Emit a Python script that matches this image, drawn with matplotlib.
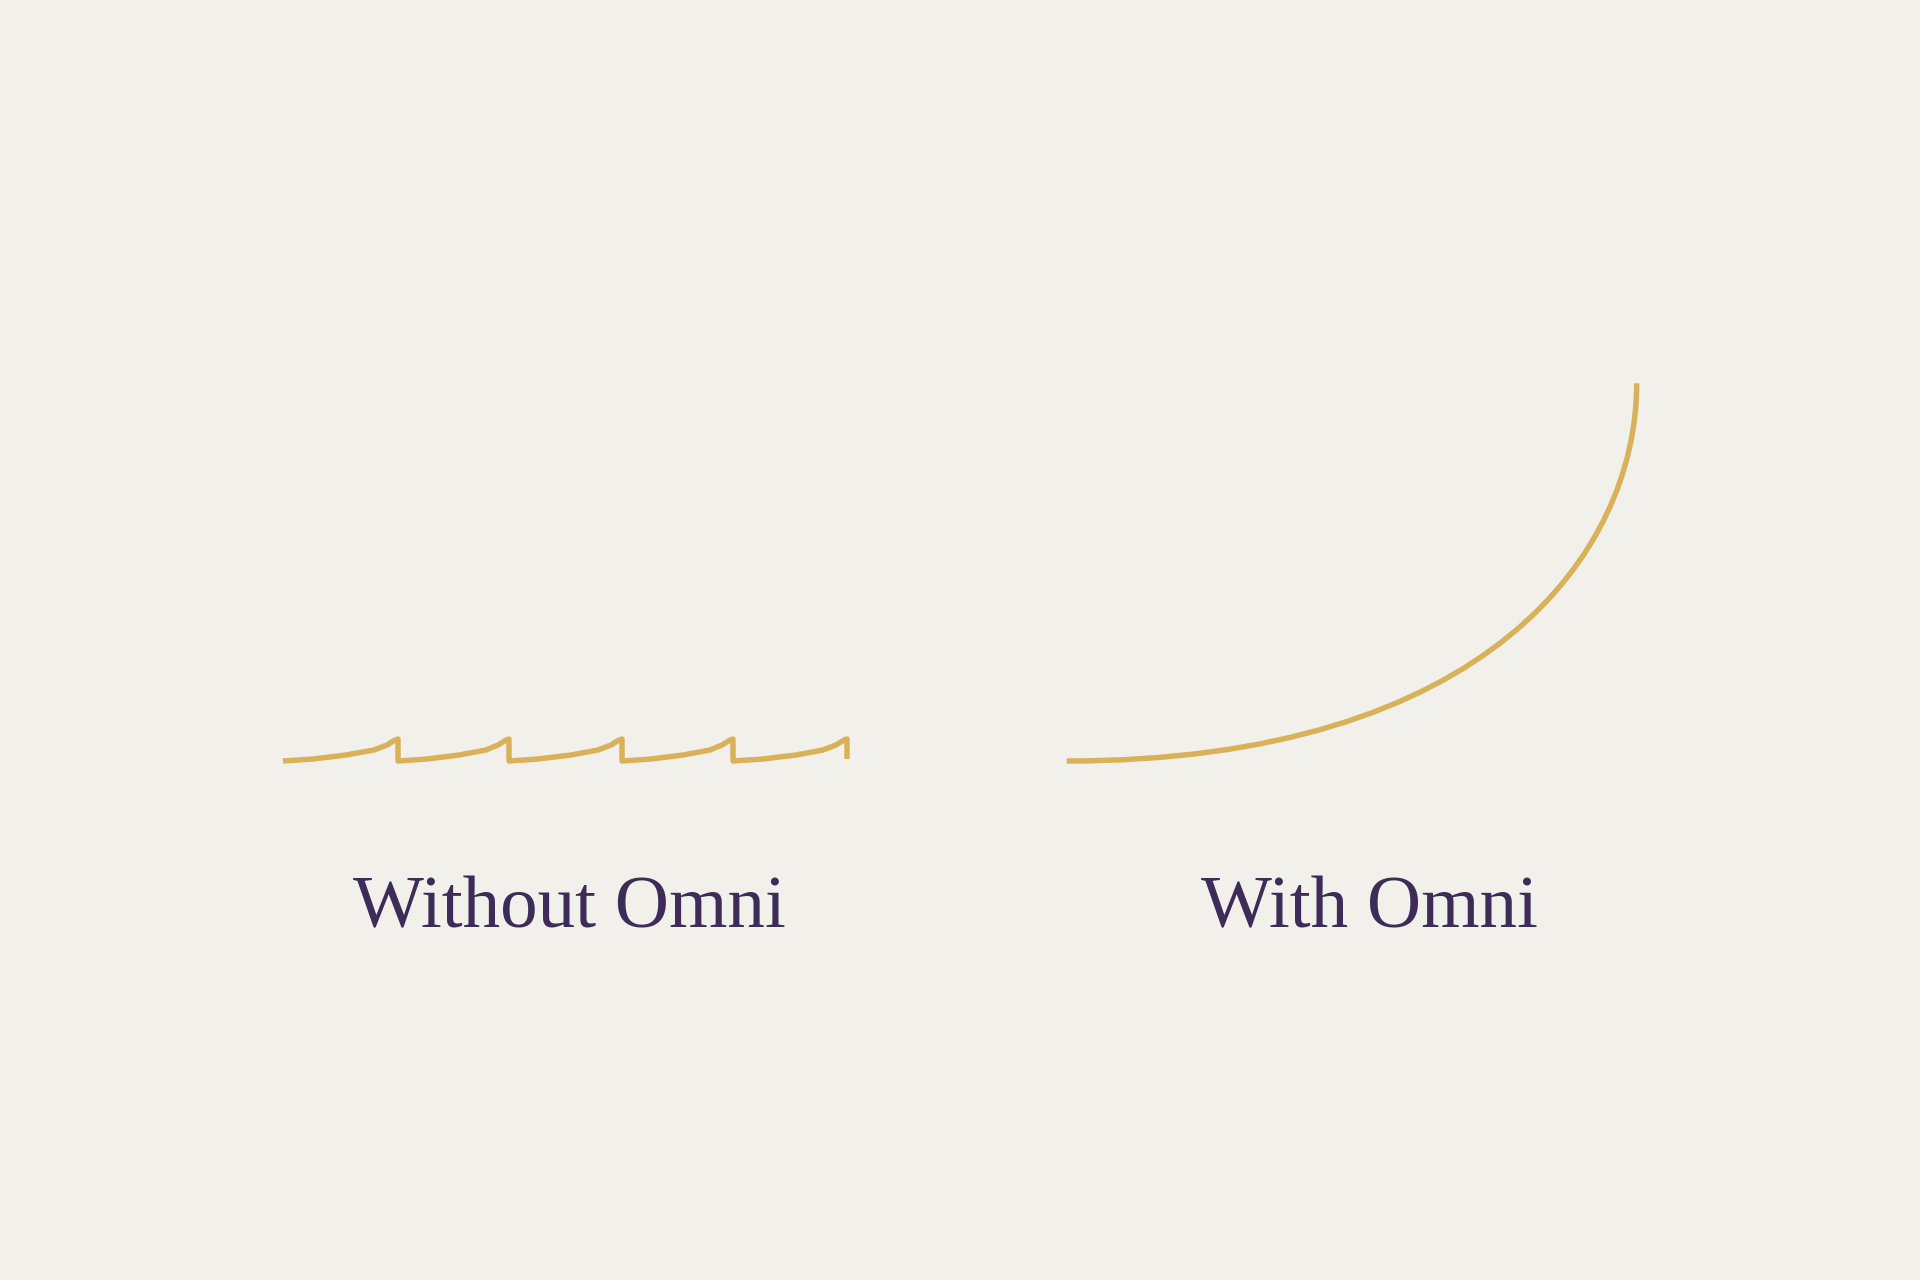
import matplotlib.pyplot as plt
from matplotlib.path import Path
from matplotlib.patches import PathPatch

# ---------------------------------------------------------------------
# Data: height above the common baseline, x along the canvas
# "Without Omni": five small growth cycles that reset to zero
without_x = [283, 313, 346, 374, 387, 395, 398, 398,
             427, 459, 486, 498, 506, 509, 509,
             538, 571, 598, 611, 619, 622, 622,
             651, 683, 710, 722, 730, 733, 733,
             763, 796, 823, 836, 844, 847, 847]
without_y = [0, 2, 6, 11, 16, 21, 22, 0,
             2, 6, 11, 16, 21, 22, 0,
             2, 6, 11, 16, 21, 22, 0,
             2, 6, 11, 16, 21, 22, 0,
             2, 6, 11, 16, 21, 22, 2]

# "With Omni": one compounding curve, given as cubic bezier
# start / handle / handle / end (flat at the start, vertical at the end)
with_x = [1066.7, 1486.7, 1636.7, 1636.7]
with_y = [0.0, 0.0, 207.7, 377.7]

labels = ["Without Omni", "With Omni"]
label_x = [569, 1369]
label_y = -166

BG = "#F2F0EB"
GOLD = "#D8B158"
INK = "#3D2C58"
LW = 3.9

fig = plt.figure(figsize=(19.2, 12.8), dpi=100)
fig.patch.set_facecolor(BG)
ax = fig.add_axes([0, 0, 1, 1])
ax.set_facecolor(BG)

ax.plot(without_x, without_y, color=GOLD, lw=LW,
        solid_joinstyle="round", solid_capstyle="butt")

curve = Path(list(zip(with_x, with_y)),
             [Path.MOVETO, Path.CURVE4, Path.CURVE4, Path.CURVE4])
ax.add_patch(PathPatch(curve, fill=False, edgecolor=GOLD, lw=LW, capstyle="butt"))

for txt, x in zip(labels, label_x):
    ax.text(x, label_y, txt, ha="center", va="baseline",
            fontsize=54, color=INK, family=["Liberation Serif", "DejaVu Serif"])

ax.set_xlim(0, 1920)
ax.set_ylim(-519, 761)
ax.axis("off")

plt.savefig("out.png", dpi=100, facecolor=BG)
